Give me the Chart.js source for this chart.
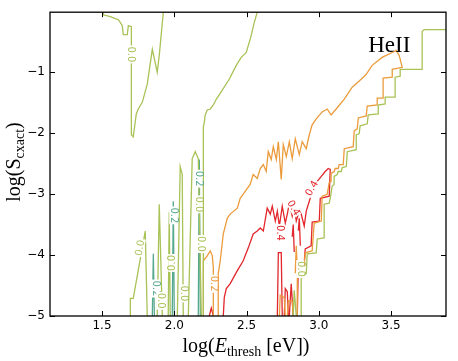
<!DOCTYPE html>
<html>
<head>
<meta charset="utf-8">
<script src="https://cdn.jsdelivr.net/npm/chart.js@4.4.1/dist/chart.umd.min.js"></script>
<style>
body { margin: 0; background: #fff; }
#caja { width: 458px; height: 361px; }
</style>
</head>
<body>
<div id="caja"><canvas id="myChart" width="458" height="361"></canvas></div>
<script>
var xTicks = [1.5, 2.0, 2.5, 3.0, 3.5];
var yTicks = [-5, -4, -3, -2, -1];
var xMin = 1.14, xMax = 3.88, yMin = -5, yMax = -0.02;

var VERDE = '#a8c256', TEAL = '#56a88e', NARANJA = '#eb9b3b', ROJO = '#e2262b';

// contorno 0.0
var verdeA = [[1.509,-0.02],[1.509,-0.062],[1.557,-0.094],[1.592,-0.127],[1.613,-0.143],[1.627,-0.192],[1.640,-0.241],[1.647,-0.387],[1.675,-0.387],[1.682,-0.241],[1.703,-0.257],[1.703,-0.924],[1.703,-2.029],[1.716,-2.062],[1.737,-1.688],[1.751,-1.607],[1.779,-1.493],[1.813,-1.200],[1.848,-0.628],[1.882,-1.005],[1.896,-0.728],[1.924,-0.02]];
var verdeB = [[2.574,-0.02],[2.553,-0.192],[2.532,-0.403],[2.498,-0.680],[2.463,-0.761],[2.429,-0.891],[2.380,-1.119],[2.332,-1.298],[2.291,-1.444],[2.270,-1.541],[2.249,-1.607],[2.228,-1.623],[2.214,-1.704],[2.208,-1.818],[2.201,-1.899],[2.201,-5]];
var verdeEscalera = [[3.88,-0.306],[3.729,-0.306],[3.715,-0.338],[3.715,-0.956],[3.563,-0.956],[3.563,-1.070],[3.528,-1.086],[3.528,-1.411],[3.459,-1.411],[3.459,-1.525],[3.411,-1.541],[3.411,-1.688],[3.342,-1.704],[3.335,-1.850],[3.286,-1.883],[3.279,-2.013],[3.259,-2.029],[3.259,-2.273],[3.197,-2.306],[3.190,-2.550],[3.162,-2.566],[3.155,-2.631],[3.134,-2.631],[3.127,-2.680],[3.106,-2.712],[3.106,-2.842],[3.092,-2.875],[3.079,-3.070],[3.072,-3.151],[3.037,-3.167],[3.037,-3.720],[2.989,-3.737],[2.982,-3.964],[2.920,-3.980],[2.913,-4.306],[2.878,-4.338],[2.878,-5]];
var verdePico1 = [[1.696,-5],[1.696,-4.712],[1.716,-4.712],[1.744,-4.338],[1.799,-3.607],[1.813,-5]];
var verdePico2 = [[1.882,-5],[1.896,-3.167],[1.917,-5]];
var verdePico3 = [[1.958,-5],[1.965,-3.3],[1.972,-5]];
var verdePico4 = [[2.021,-5],[2.041,-2.55],[2.055,-2.68],[2.062,-5]];
var verdePico5 = [[2.097,-5],[2.124,-2.42],[2.145,-2.306],[2.166,-2.42],[2.187,-5]];
var verdePico6 = [[2.823,-5],[2.830,-4.58],[2.844,-5]];

// contorno 0.2 (teal)
var tealPico1 = [[1.848,-5],[1.855,-3.98],[1.862,-5]];
var tealPico2 = [[1.986,-5],[1.993,-3.118],[2.0,-5]];
var tealPico3 = [[2.166,-5],[2.173,-2.436],[2.18,-5]];

// contorno 0.2 (naranja)
var naranjaPrincipal = [[2.304,-5],[2.304,-4.306],[2.318,-4.094],[2.339,-3.655],[2.367,-3.395],[2.387,-3.330],[2.436,-3.232],[2.456,-3.070],[2.477,-3.004],[2.505,-2.907],[2.525,-2.842],[2.546,-2.680],[2.574,-2.745],[2.595,-2.582],[2.616,-2.517],[2.636,-2.631],[2.650,-2.306],[2.671,-2.436],[2.685,-2.224],[2.706,-2.436],[2.720,-2.143],[2.740,-2.761],[2.754,-2.192],[2.775,-2.387],[2.796,-2.143],[2.816,-2.420],[2.837,-2.094],[2.865,-2.354],[2.885,-2.143],[2.913,-2.257],[2.934,-2.029],[2.954,-1.867],[2.982,-1.769],[3.023,-1.655],[3.058,-1.607],[3.085,-1.704],[3.120,-1.607],[3.176,-1.444],[3.231,-1.249],[3.293,-1.119],[3.328,-1.037],[3.369,-0.891],[3.438,-0.761],[3.508,-0.680],[3.535,-0.647],[3.556,-0.728],[3.577,-0.924],[3.508,-0.956],[3.508,-1.086],[3.445,-1.102],[3.445,-1.428],[3.404,-1.428],[3.404,-1.541],[3.335,-1.558],[3.328,-1.720],[3.273,-1.753],[3.266,-1.932],[3.245,-1.964],[3.238,-2.224],[3.176,-2.257],[3.169,-2.517],[3.141,-2.517],[3.134,-2.582],[3.113,-2.582],[3.106,-2.631],[3.085,-2.663],[3.085,-2.793],[3.072,-2.810],[3.058,-3.004],[3.023,-3.037],[3.017,-3.444],[2.968,-3.476],[2.954,-3.932],[2.906,-3.964],[2.899,-4.176],[2.851,-4.225],[2.851,-5]];
var naranjaLazo = [[2.201,-5],[2.201,-4.094],[2.228,-4.013],[2.249,-3.932],[2.263,-4.013],[2.270,-4.208],[2.270,-5]];
var naranjaPico1 = [[2.727,-5],[2.733,-4.66],[2.761,-4.70],[2.768,-5]];
var naranjaPico2 = [[2.782,-5],[2.789,-4.75],[2.816,-4.76],[2.823,-5]];
var naranjaPico3 = [[2.837,-4.3],[2.844,-3.85],[2.851,-4.25]];

// contorno 0.4
var rojoPrincipal = [[2.339,-5],[2.346,-4.696],[2.360,-4.550],[2.387,-4.468],[2.436,-4.257],[2.477,-4.094],[2.512,-3.883],[2.546,-3.655],[2.574,-3.607],[2.595,-3.558],[2.616,-3.607],[2.643,-3.232],[2.664,-3.330],[2.678,-3.200],[2.699,-3.444],[2.713,-3.281],[2.727,-3.525],[2.747,-3.200],[2.768,-3.476],[2.782,-3.330],[2.796,-3.151],[2.816,-3.363],[2.830,-3.200],[2.844,-3.444],[2.865,-3.281],[2.878,-3.330],[2.899,-3.525],[2.913,-3.281],[2.934,-3.118],[2.961,-2.923],[2.989,-2.793],[3.017,-2.712],[3.044,-2.631],[3.065,-2.582],[3.079,-2.598],[3.072,-3.037],[3.010,-3.070],[3.003,-3.444],[2.954,-3.460],[2.947,-3.850],[2.906,-3.899],[2.899,-4.128],[2.858,-4.176],[2.851,-5]];
var rojoPico1 = [[2.713,-5],[2.720,-3.96],[2.740,-3.96],[2.747,-5]];
var rojoPico2 = [[2.796,-5],[2.809,-4.47],[2.823,-5]];
var rojoPico3 = [[2.816,-3.7],[2.823,-3.5],[2.830,-3.95]];
var rojoPico4 = [[2.858,-3.6],[2.865,-3.4],[2.872,-3.85]];
var rojoPico5 = [[2.242,-5],[2.256,-4.87],[2.270,-5]];
var rojoPico6 = [[2.761,-5],[2.768,-4.55],[2.782,-4.6],[2.789,-5]];

var etiquetas = [
  ['0.0', 1.696, -0.712, VERDE, 90],
  ['0.0', 1.765, -3.883, VERDE, -80],
  ['0.2', 1.869, -4.55, TEAL, 90],
  ['0.0', 1.903, -4.75, VERDE, 90],
  ['0.0', 1.986, -4.13, VERDE, -90],
  ['0.2', 1.993, -3.35, TEAL, 90],
  ['0.0', 2.062, -4.63, VERDE, 90],
  ['0.2', 2.166, -2.75, TEAL, 90],
  ['0.0', 2.166, -3.17, VERDE, 90],
  ['0.0', 2.180, -3.82, VERDE, 90],
  ['0.2', 2.270, -4.47, NARANJA, 90],
  ['0.4', 2.727, -3.64, ROJO, 90],
  ['0.4', 2.823, -3.23, ROJO, 60],
  ['0.4', 2.954, -2.91, ROJO, -60],
  ['0.0', 2.871, -4.23, VERDE, 90]
];
var especie = { texto: 'HeII', x: 3.342, y: -0.68 };

var lineas = [
  [verdeA, VERDE], [verdeB, VERDE], [verdeEscalera, VERDE],
  [verdePico1, VERDE], [verdePico2, VERDE], [verdePico3, VERDE], [verdePico4, VERDE], [verdePico5, VERDE], [verdePico6, VERDE],
  [tealPico1, TEAL], [tealPico2, TEAL], [tealPico3, TEAL],
  [naranjaPrincipal, NARANJA], [naranjaLazo, NARANJA], [naranjaPico1, NARANJA], [naranjaPico2, NARANJA], [naranjaPico3, NARANJA],
  [rojoPrincipal, ROJO], [rojoPico1, ROJO], [rojoPico2, ROJO], [rojoPico3, ROJO], [rojoPico4, ROJO], [rojoPico5, ROJO], [rojoPico6, ROJO]
];

function puntos(arr) {
  return arr.map(function (p) { return { x: p[0], y: p[1] }; });
}

var datasets = lineas.map(function (l) {
  return {
    data: puntos(l[0]),
    borderColor: l[1],
    borderWidth: 1.3,
    showLine: true,
    pointRadius: 0,
    fill: false,
    tension: 0
  };
});

// texto con subindice
function textoSub(ctx, partes, x, y) {
  var ancho = 0;
  partes.forEach(function (p) { ctx.font = p.f; ancho += ctx.measureText(p.t).width; });
  var cx = x - ancho / 2;
  partes.forEach(function (p) {
    ctx.font = p.f;
    ctx.fillText(p.t, cx, y + (p.dy || 0));
    cx += ctx.measureText(p.t).width;
  });
}

var decorado = {
  id: 'decorado',
  afterDatasetsDraw: function (chart) {
    var ctx = chart.ctx, sx = chart.scales.x, sy = chart.scales.y;
    ctx.save();
    ctx.font = '10px "DejaVu Sans"';
    ctx.textAlign = 'center';
    ctx.textBaseline = 'middle';
    etiquetas.forEach(function (e) {
      var px = sx.getPixelForValue(e[1]), py = sy.getPixelForValue(e[2]);
      var w = ctx.measureText(e[0]).width;
      ctx.save();
      ctx.translate(px, py);
      ctx.rotate(e[4] * Math.PI / 180);
      ctx.fillStyle = '#fff';
      ctx.fillRect(-w / 2 - 1, -4, w + 2, 8);
      ctx.fillStyle = e[3];
      ctx.fillText(e[0], 0, 0);
      ctx.restore();
    });
    ctx.fillStyle = '#000';
    ctx.textAlign = 'left';
    ctx.textBaseline = 'alphabetic';
    ctx.font = '23px "Liberation Serif"';
    ctx.fillText(especie.texto, sx.getPixelForValue(especie.x), sy.getPixelForValue(especie.y));
    ctx.restore();
  },
  afterDraw: function (chart) {
    var ctx = chart.ctx, a = chart.chartArea, sx = chart.scales.x, sy = chart.scales.y;
    ctx.save();
    ctx.strokeStyle = '#000';
    ctx.lineWidth = 1.3;
    ctx.strokeRect(a.left, a.top, a.right - a.left, a.bottom - a.top);
    ctx.lineWidth = 1;
    ctx.beginPath();
    xTicks.forEach(function (v) {
      var px = Math.round(sx.getPixelForValue(v)) + 0.5;
      ctx.moveTo(px, a.bottom); ctx.lineTo(px, a.bottom - 5);
      ctx.moveTo(px, a.top); ctx.lineTo(px, a.top + 5);
    });
    yTicks.forEach(function (v) {
      var py = Math.round(sy.getPixelForValue(v)) + 0.5;
      ctx.moveTo(a.left, py); ctx.lineTo(a.left + 5, py);
      ctx.moveTo(a.right, py); ctx.lineTo(a.right - 5, py);
    });
    ctx.stroke();

    // titulos de ejes
    ctx.fillStyle = '#000';
    ctx.textAlign = 'left';
    ctx.textBaseline = 'alphabetic';
    var f = '20px "Liberation Serif"', fi = 'italic 20px "Liberation Serif"', fs = '14px "Liberation Serif"';
    textoSub(ctx, [{ t: 'log(', f: f }, { t: 'E', f: fi }, { t: 'thresh', f: fs, dy: 4 }, { t: ' [eV])', f: f }], 246, 352);
    ctx.save();
    ctx.translate(20, 162);
    ctx.rotate(-Math.PI / 2);
    textoSub(ctx, [{ t: 'log(', f: f }, { t: 'S', f: f }, { t: 'cxact', f: fs, dy: 4 }, { t: ')', f: f }], 0, 0);
    ctx.restore();
    ctx.restore();
  }
};

var ctx = document.getElementById('myChart').getContext('2d');
var chart = new Chart(ctx, {
  type: 'scatter',
  data: { datasets: datasets },
  options: {
    responsive: false,
    animation: false,
    devicePixelRatio: 1,
    layout: { padding: { top: 10, right: 12, left: 0, bottom: 0 } },
    plugins: { legend: { display: false }, tooltip: { enabled: false } },
    scales: {
      x: {
        type: 'linear', min: xMin, max: xMax,
        afterBuildTicks: function (s) { s.ticks = xTicks.map(function (v) { return { value: v }; }); },
        afterFit: function (s) { s.height = 45; },
        grid: { display: false, drawTicks: false },
        border: { display: false },
        ticks: {
          padding: 3, color: '#000', maxRotation: 0,
          font: { family: 'DejaVu Sans', size: 12 },
          callback: function (v) { return v.toFixed(1); }
        }
      },
      y: {
        type: 'linear', min: yMin, max: yMax,
        afterBuildTicks: function (s) { s.ticks = yTicks.map(function (v) { return { value: v }; }); },
        afterFit: function (s) { s.width = 50; },
        grid: { display: false, drawTicks: false },
        border: { display: false },
        ticks: {
          padding: 5, color: '#000',
          font: { family: 'DejaVu Sans', size: 12 },
          callback: function (v) { return '\u2212' + Math.abs(v); }
        }
      }
    }
  },
  plugins: [decorado]
});
</script>
</body>
</html>
